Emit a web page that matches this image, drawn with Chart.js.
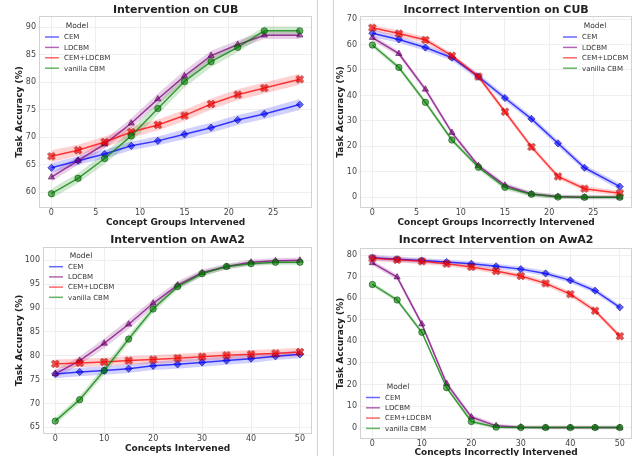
<!DOCTYPE html>
<html>
<head>
<meta charset="utf-8">
<script src="https://cdn.jsdelivr.net/npm/chart.js@4.4.1/dist/chart.umd.min.js"></script>
<style>
  html, body { margin:0; padding:0; background:#fff; width:637px; height:456px; overflow:hidden; }
  .panel { position:absolute; }
  .sep { position:absolute; top:0; width:1px; height:456px; background:#d4d4d4; }
</style>
</head>
<body>
<div class="sep" style="left:317px"></div>
<div class="sep" style="left:333px"></div>
<div class="panel" style="left:0;top:0"><canvas id="c1" width="317" height="228"></canvas></div>
<div class="panel" style="left:333px;top:0"><canvas id="c2" width="304" height="228"></canvas></div>
<div class="panel" style="left:0;top:228px"><canvas id="c3" width="317" height="228"></canvas></div>
<div class="panel" style="left:333px;top:228px"><canvas id="c4" width="304" height="228"></canvas></div>
<script>
// ---------------- DATA ----------------
const seriesNames = ['CEM', 'LDCBM', 'CEM+LDCBM', 'vanilla CBM'];

const cubX = [0, 3, 6, 9, 12, 15, 18, 21, 24, 28];
const cubXTicks = [0, 5, 10, 15, 20, 25];
const cubYTicks = [60, 65, 70, 75, 80, 85, 90];
const cubIncYTicks = [0, 10, 20, 30, 40, 50, 60, 70];

const cubCEM      = [64.4, 65.7, 66.9, 68.4, 69.3, 70.5, 71.7, 73.1, 74.2, 75.9];
const cubLDCBM    = [62.7, 65.7, 68.7, 72.5, 76.9, 81.1, 84.8, 86.8, 88.5, 88.5];
const cubCEMLDCBM = [66.5, 67.6, 69.1, 70.9, 72.2, 73.9, 76.0, 77.7, 78.9, 80.5];
const cubVanilla  = [59.7, 62.5, 66.1, 70.2, 75.2, 80.1, 83.7, 86.3, 89.3, 89.3];
const cubCEMErr      = [0.9, 0.8, 0.8, 0.8, 0.8, 0.9, 0.9, 0.9, 0.9, 1.0];
const cubLDCBMErr    = [0.8, 0.8, 0.8, 0.9, 1.0, 1.0, 0.9, 0.8, 0.7, 0.7];
const cubCEMLDCBMErr = [1.1, 1.0, 1.0, 1.0, 1.0, 1.0, 1.0, 1.0, 1.0, 1.0];
const cubVanillaErr  = [0.9, 0.9, 1.0, 1.1, 1.1, 1.1, 1.0, 0.9, 0.8, 0.8];

const cubIncCEM      = [64.4, 62.0, 58.8, 54.8, 47.4, 39.0, 30.8, 21.2, 11.6, 4.2];
const cubIncLDCBM    = [62.7, 56.4, 42.4, 25.4, 12.4, 4.7, 1.3, 0.3, 0.0, 0.0];
const cubIncCEMLDCBM = [66.6, 64.3, 61.8, 55.6, 47.4, 33.6, 19.8, 8.2, 3.4, 1.6];
const cubIncVanilla  = [59.8, 51.0, 37.3, 22.5, 11.8, 3.9, 1.2, 0.1, 0.0, 0.0];
const cubIncCEMErr      = [1.5, 1.3, 1.2, 1.2, 1.2, 1.2, 1.2, 1.2, 1.2, 1.2];
const cubIncLDCBMErr    = [1.2, 1.0, 1.0, 1.0, 1.0, 1.0, 1.0, 0.8, 0.8, 0.8];
const cubIncCEMLDCBMErr = [1.2, 1.2, 1.2, 1.0, 1.0, 1.0, 1.0, 1.0, 1.0, 1.0];
const cubIncVanillaErr  = [1.0, 1.0, 1.0, 1.0, 1.0, 1.0, 1.0, 0.8, 0.8, 0.8];

const awaX = [0, 5, 10, 15, 20, 25, 30, 35, 40, 45, 50];
const awaXTicks = [0, 10, 20, 30, 40, 50];
const awaYTicks = [65, 70, 75, 80, 85, 90, 95, 100];
const awaIncYTicks = [0, 10, 20, 30, 40, 50, 60, 70, 80];

const awaCEM      = [76.2, 76.6, 76.9, 77.3, 77.9, 78.2, 78.6, 79.0, 79.4, 79.9, 80.3];
const awaLDCBM    = [76.2, 79.0, 82.6, 86.6, 91.0, 94.8, 97.4, 98.7, 99.6, 99.9, 100.0];
const awaCEMLDCBM = [78.3, 78.5, 78.7, 79.0, 79.2, 79.5, 79.8, 80.1, 80.3, 80.5, 80.8];
const awaVanilla  = [66.3, 70.8, 76.9, 83.5, 89.8, 94.5, 97.2, 98.7, 99.3, 99.6, 99.6];
const awaCEMErr      = [0.9, 0.9, 0.9, 0.9, 0.9, 0.9, 0.9, 0.9, 0.9, 0.8, 0.8];
const awaLDCBMErr    = [0.8, 0.9, 1.0, 1.0, 0.9, 0.8, 0.7, 0.6, 0.6, 0.6, 0.6];
const awaCEMLDCBMErr = [0.9, 0.9, 0.9, 0.9, 0.9, 0.9, 0.9, 0.9, 0.9, 0.9, 0.9];
const awaVanillaErr  = [0.7, 0.8, 0.9, 0.9, 0.8, 0.7, 0.6, 0.5, 0.5, 0.5, 0.5];

const awaIncCEM      = [78.8, 78.1, 77.5, 76.8, 76.0, 74.8, 73.5, 71.5, 68.3, 63.5, 55.8];
const awaIncLDCBM    = [76.4, 69.8, 48.0, 20.4, 4.9, 0.8, 0.2, 0.0, 0.0, 0.0, 0.0];
const awaIncCEMLDCBM = [78.5, 77.8, 77.1, 76.0, 74.5, 72.6, 70.3, 66.9, 61.9, 54.2, 42.4];
const awaIncVanilla  = [66.4, 59.2, 44.2, 18.5, 2.8, 0.2, 0.0, 0.0, 0.0, 0.0, 0.0];
const awaIncCEMErr      = [1.2, 1.2, 1.2, 1.2, 1.2, 1.2, 1.2, 1.2, 1.2, 1.2, 1.2];
const awaIncLDCBMErr    = [1.2, 1.2, 1.2, 1.2, 1.2, 1.0, 0.8, 0.8, 0.8, 0.8, 0.8];
const awaIncCEMLDCBMErr = [1.2, 1.2, 1.2, 1.2, 1.2, 1.2, 1.2, 1.2, 1.2, 1.2, 1.2];
const awaIncVanillaErr  = [1.0, 1.0, 1.0, 1.0, 1.0, 0.8, 0.8, 0.8, 0.8, 0.8, 0.8];

// ---------------- STYLE ----------------
const FONT = "'DejaVu Sans'";
const RGB  = [[0,0,255],[128,0,128],[255,0,0],[0,128,0]];
const EDGE = [[0,0,140],[70,0,70],[140,0,0],[0,70,0]];
const rgba = (c, a) => `rgba(${c[0]},${c[1]},${c[2]},${a})`;

function makeXMarker() {
  const cv = document.createElement('canvas');
  cv.width = 10; cv.height = 10;
  const g = cv.getContext('2d');
  g.translate(5, 5);
  g.rotate(Math.PI / 4);
  const w = 1.3, s = 4.0;
  const pts = [[-w,-s],[w,-s],[w,-w],[s,-w],[s,w],[w,w],[w,s],[-w,s],[-w,w],[-s,w],[-s,-w],[-w,-w]];
  g.beginPath();
  pts.forEach((p, i) => i ? g.lineTo(p[0], p[1]) : g.moveTo(p[0], p[1]));
  g.closePath();
  g.fillStyle = rgba(RGB[2], 0.7);
  g.fill();
  g.lineWidth = 0.8;
  g.strokeStyle = rgba(EDGE[2], 0.8);
  g.stroke();
  return cv;
}
const xMarker = makeXMarker();
const POINT_STYLES = ['rectRot', 'triangle', xMarker, 'circle'];
const POINT_RADII = [3.6, 3.6, 3.5, 3.2];

function buildDatasets(xs, series, errs) {
  const ds = [];
  series.forEach((vals, i) => {
    const pts = xs.map((x, j) => ({ x: x, y: vals[j] }));
    const lo = xs.map((x, j) => ({ x: x, y: vals[j] - errs[i][j] }));
    const hi = xs.map((x, j) => ({ x: x, y: vals[j] + errs[i][j] }));
    ds.push({
      label: seriesNames[i], data: pts, order: 3 - i,
      borderColor: rgba(RGB[i], 0.75), borderWidth: 1.5, fill: false,
      pointStyle: POINT_STYLES[i], pointRadius: POINT_RADII[i],
      pointBackgroundColor: rgba(RGB[i], 0.6), pointBorderColor: rgba(EDGE[i], 0.7),
      pointBorderWidth: 0.8
    });
    ds.push({
      label: '_lo' + i, data: lo, order: 20 - i,
      borderWidth: 0, borderColor: 'rgba(0,0,0,0)', pointRadius: 0, fill: false
    });
    ds.push({
      label: '_hi' + i, data: hi, order: 20 - i,
      borderWidth: 0, borderColor: 'rgba(0,0,0,0)', pointRadius: 0,
      fill: '-1', backgroundColor: rgba(RGB[i], 0.18)
    });
  });
  return ds;
}

const decorPlugin = {
  id: 'decor',
  afterDraw(chart) {
    const o = chart.options.plugins.decor;
    const ctx = chart.ctx;
    const a = chart.chartArea;
    ctx.save();
    // frame
    ctx.strokeStyle = '#d2d2d2';
    ctx.lineWidth = 1;
    ctx.strokeRect(Math.round(a.left) + 0.5, Math.round(a.top) + 0.5,
                   Math.round(a.right - a.left) - 1, Math.round(a.bottom - a.top) - 1);
    // title
    ctx.fillStyle = '#222';
    ctx.font = `bold 11px ${FONT}`;
    ctx.textAlign = 'center';
    ctx.textBaseline = 'middle';
    ctx.fillText(o.title, (a.left + a.right) / 2, o.titleY);
    // legend
    const L = o.legend;
    ctx.font = `7.5px ${FONT}`;
    ctx.fillStyle = '#333';
    ctx.fillText('Model', L.titleX, L.titleY);
    ctx.font = `7px ${FONT}`;
    ctx.textAlign = 'left';
    seriesNames.forEach((name, i) => {
      const y = L.y0 + i * L.dy;
      ctx.strokeStyle = rgba(RGB[i], 0.6);
      ctx.lineWidth = 1.5;
      ctx.beginPath();
      ctx.moveTo(L.x0, y);
      ctx.lineTo(L.x0 + 14, y);
      ctx.stroke();
      ctx.fillStyle = '#333';
      ctx.fillText(name, L.x0 + 19, y + 0.5);
    });
    ctx.restore();
  }
};

function makeChart(id, cfg) {
  const cv = document.getElementById(id);
  const W = cv.width, H = cv.height;
  const gridOpts = { color: '#ebebeb', lineWidth: 0.8, drawTicks: false };
  return new Chart(cv, {
    type: 'line',
    data: { datasets: buildDatasets(cfg.xs, cfg.series, cfg.errs) },
    plugins: [decorPlugin],
    options: {
      responsive: false, animation: false, devicePixelRatio: 1,
      layout: { padding: { left: 0, top: cfg.area.top, right: W - cfg.area.right, bottom: 0 } },
      elements: { line: { tension: 0 } },
      scales: {
        x: {
          type: 'linear', min: cfg.xMin, max: cfg.xMax,
          afterBuildTicks: s => { s.ticks = cfg.xTicks.map(v => ({ value: v })); },
          afterFit: s => { s.height = H - cfg.area.bottom; },
          grid: gridOpts, border: { display: false },
          ticks: { padding: 0.5, color: '#444', font: { family: FONT, size: 8 } },
          title: { display: true, text: cfg.xTitle, color: '#222',
                   font: { family: FONT, size: 9, weight: 'bold' },
                   padding: { top: 0, bottom: cfg.xTitlePad } }
        },
        y: {
          type: 'linear', min: cfg.yMin, max: cfg.yMax,
          afterBuildTicks: s => { s.ticks = cfg.yTicks.map(v => ({ value: v })); },
          afterFit: s => { s.width = cfg.area.left; },
          grid: gridOpts, border: { display: false },
          ticks: { padding: 3, color: '#444', font: { family: FONT, size: 8 } },
          title: { display: true, text: 'Task Accuracy (%)', color: '#222',
                   font: { family: FONT, size: 9, weight: 'bold' },
                   padding: { top: cfg.yTitlePad, bottom: 0 } }
        }
      },
      plugins: {
        legend: { display: false },
        tooltip: { enabled: false },
        decor: { title: cfg.title, titleY: cfg.titleY, legend: cfg.legend }
      }
    }
  });
}

makeChart('c1', {
  xs: cubX, series: [cubCEM, cubLDCBM, cubCEMLDCBM, cubVanilla],
  errs: [cubCEMErr, cubLDCBMErr, cubCEMLDCBMErr, cubVanillaErr],
  xTicks: cubXTicks, yTicks: cubYTicks, xMin: -1.4, xMax: 29.4, yMin: 57.1, yMax: 92.0,
  area: { left: 39, top: 16, right: 313, bottom: 208 },
  xTitle: 'Concept Groups Intervened', xTitlePad: -0.4, yTitlePad: 14.6,
  title: 'Intervention on CUB', titleY: 10.5,
  legend: { titleX: 77, titleY: 26.5, x0: 45, y0: 37, dy: 10.4 }
});

makeChart('c2', {
  xs: cubX, series: [cubIncCEM, cubIncLDCBM, cubIncCEMLDCBM, cubIncVanilla],
  errs: [cubIncCEMErr, cubIncLDCBMErr, cubIncCEMLDCBMErr, cubIncVanillaErr],
  xTicks: cubXTicks, yTicks: cubIncYTicks, xMin: -1.4, xMax: 29.4, yMin: -4.2, yMax: 71.2,
  area: { left: 27, top: 16, right: 300, bottom: 208 },
  xTitle: 'Concept Groups Incorrectly Intervened', xTitlePad: -0.4, yTitlePad: 2.6,
  title: 'Incorrect Intervention on CUB', titleY: 10.5,
  legend: { titleX: 262, titleY: 26.5, x0: 230, y0: 37, dy: 10.4 }
});

makeChart('c3', {
  xs: awaX, series: [awaCEM, awaLDCBM, awaCEMLDCBM, awaVanilla],
  errs: [awaCEMErr, awaLDCBMErr, awaCEMLDCBMErr, awaVanillaErr],
  xTicks: awaXTicks, yTicks: awaYTicks, xMin: -2.5, xMax: 52.5, yMin: 63.6, yMax: 102.8,
  area: { left: 43, top: 19, right: 313, bottom: 206 },
  xTitle: 'Concepts Intervened', xTitlePad: 1.6, yTitlePad: 14.6,
  title: 'Intervention on AwA2', titleY: 12.3,
  legend: { titleX: 81, titleY: 28, x0: 49, y0: 38.7, dy: 10.2 }
});

makeChart('c4', {
  xs: awaX, series: [awaIncCEM, awaIncLDCBM, awaIncCEMLDCBM, awaIncVanilla],
  errs: [awaIncCEMErr, awaIncLDCBMErr, awaIncCEMLDCBMErr, awaIncVanillaErr],
  xTicks: awaXTicks, yTicks: awaIncYTicks, xMin: -2.5, xMax: 52.5, yMin: -5.3, yMax: 83.3,
  area: { left: 27, top: 20, right: 300, bottom: 211 },
  xTitle: 'Concepts Incorrectly Intervened', xTitlePad: -2.4, yTitlePad: 2.6,
  title: 'Incorrect Intervention on AwA2', titleY: 12.3,
  legend: { titleX: 65, titleY: 159, x0: 33, y0: 169.5, dy: 10.3 }
});
</script>
</body>
</html>
